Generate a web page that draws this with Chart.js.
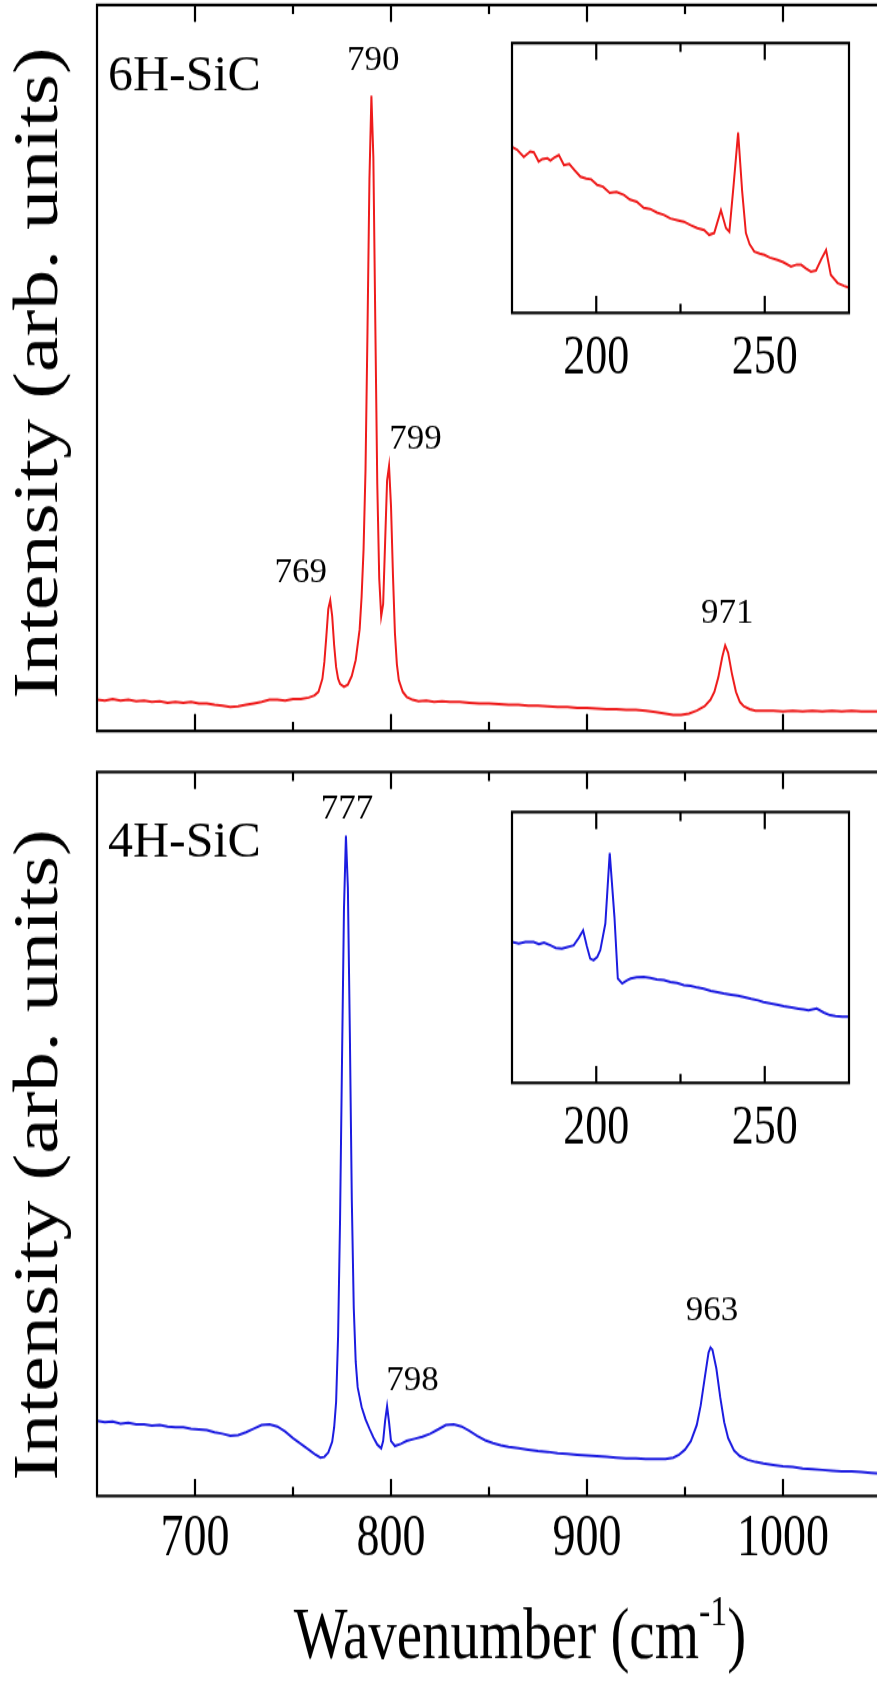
<!DOCTYPE html>
<html>
<head>
<meta charset="utf-8">
<title>Raman spectra 6H-SiC / 4H-SiC</title>
<script src="https://cdn.jsdelivr.net/npm/chart.js@4.4.1/dist/chart.umd.min.js"></script>
<style>
    html, body { margin: 0; padding: 0; background: #fff; overflow: hidden; }
    #page { position: relative; width: 877px; height: 1686px; overflow: hidden; background: #fff; }
    canvas { position: absolute; }
</style>
</head>
<body>
<div id="page">
    <canvas id="top-main"></canvas>
    <canvas id="bottom-main"></canvas>
    <canvas id="top-inset"></canvas>
    <canvas id="bottom-inset"></canvas>
</div>
<script>
// ---- data (intensity in arbitrary units, 0-100 of the panel) ----
const wn6H = [650, 654, 658, 662, 666, 670, 674, 678, 682, 686, 690, 694, 698, 702, 706, 710, 714, 718, 722, 726,
    730, 734, 738, 742, 746, 750, 754, 758, 761, 763, 765, 766, 767, 768, 769, 770, 771, 772, 773, 774,
    776, 778, 780, 782, 784, 785, 786, 787, 788, 789, 790, 791, 792, 793, 794, 795, 796, 797, 798, 799,
    800, 801, 802, 803, 804, 806, 808, 811, 814, 818, 822, 826, 830, 835, 840, 845, 850, 855, 860, 865,
    870, 875, 880, 885, 890, 895, 900, 905, 910, 915, 920, 925, 930, 935, 940, 944, 948, 952, 956, 960,
    963, 965, 967, 969, 970.5, 972, 974, 976, 978, 980, 983, 986, 990, 995, 1000, 1005, 1010, 1015, 1020, 1025,
    1030, 1035, 1040, 1045, 1050];
const int6H = [4.3, 4.2, 4.4, 4.2, 4.3, 4.1, 4.2, 4.0, 4.1, 3.9, 4.0, 3.9, 4.0, 3.8, 3.8, 3.6, 3.5, 3.3, 3.4, 3.6,
    3.8, 4.0, 4.3, 4.3, 4.2, 4.4, 4.4, 4.6, 4.9, 5.4, 7.2, 9.5, 13.0, 16.8, 18.0, 15.8, 11.8, 8.8, 7.2, 6.5,
    6.1, 6.4, 7.6, 9.8, 14.0, 18.5, 25.0, 36.0, 55.0, 76.0, 87.5, 79.0, 56.0, 34.0, 21.0, 15.8, 17.5, 26.0, 34.5, 36.5,
    31.0, 21.5, 13.5, 9.2, 7.0, 5.4, 4.7, 4.3, 4.1, 4.2, 4.0, 4.1, 4.0, 4.0, 3.9, 3.8, 3.8, 3.7, 3.6, 3.6,
    3.5, 3.5, 3.4, 3.3, 3.3, 3.2, 3.2, 3.1, 3.0, 3.0, 2.9, 2.9, 2.8, 2.6, 2.4, 2.2, 2.2, 2.4, 2.8, 3.4,
    4.3, 5.4, 7.4, 10.2, 11.8, 10.8, 7.8, 5.4, 4.0, 3.4, 3.0, 2.8, 2.8, 2.8, 2.7, 2.8, 2.7, 2.8, 2.7, 2.8,
    2.7, 2.8, 2.7, 2.7, 2.7];

const wn4H = [650, 654, 658, 662, 666, 670, 674, 678, 682, 686, 690, 694, 698, 702, 706, 710, 714, 718, 722, 726,
    730, 734, 738, 742, 746, 750, 754, 758, 761, 764, 766, 768, 770, 771, 772, 773, 774, 775, 776, 777,
    778, 779, 780, 781, 782, 783, 785, 787, 789, 791, 793, 795, 796, 797, 798, 799, 800, 802, 805, 808,
    812, 816, 820, 824, 828, 832, 836, 840, 844, 848, 852, 856, 860, 865, 870, 875, 880, 885, 890, 895,
    900, 905, 910, 915, 920, 925, 930, 935, 940, 944, 947, 950, 953, 956, 958, 960, 962, 963, 964, 966,
    968, 970, 972, 975, 978, 982, 986, 990, 995, 1000, 1005, 1010, 1015, 1020, 1025, 1030, 1035, 1040, 1045, 1050];
const int4H = [10.4, 10.2, 10.3, 10.0, 10.1, 9.9, 9.9, 9.7, 9.8, 9.6, 9.5, 9.5, 9.3, 9.2, 9.1, 8.8, 8.6, 8.3, 8.4, 8.8,
    9.3, 9.8, 9.9, 9.6, 8.9, 8.0, 7.2, 6.4, 5.8, 5.3, 5.4, 6.0, 7.5, 9.5, 13.0, 22.0, 38.0, 60.0, 81.0, 91.2,
    84.0, 64.0, 41.0, 26.0, 18.5, 15.0, 12.3, 10.6, 9.3, 8.1, 7.1, 6.6, 7.6, 10.4, 12.4, 10.2, 7.6, 6.9, 7.2, 7.6,
    7.9, 8.2, 8.6, 9.2, 9.8, 9.9, 9.6, 9.0, 8.3, 7.7, 7.3, 7.0, 6.8, 6.6, 6.4, 6.2, 6.1, 5.9, 5.8, 5.7,
    5.6, 5.5, 5.4, 5.3, 5.2, 5.2, 5.1, 5.1, 5.1, 5.3, 5.7, 6.4, 7.6, 9.8, 12.5, 16.2, 19.8, 20.5, 20.2, 17.6,
    13.6, 10.2, 8.0, 6.3, 5.5, 5.0, 4.7, 4.5, 4.3, 4.1, 4.0, 3.8, 3.7, 3.6, 3.5, 3.4, 3.4, 3.3, 3.2, 3.1];

// low-wavenumber insets
const insetWn6H = [175, 176.5, 178.5, 180.4, 181.5, 182.9, 184, 185.5, 186.4, 187.5, 188.9, 190.4, 192, 193.5, 195.3,
    197, 198.5, 200.3, 202, 204, 206, 208.2, 210, 212, 214.1, 216, 218, 220.1, 222, 224, 226, 228, 230, 232,
    233.5, 235, 237, 238.5, 239.5, 240.8, 242.1, 243.3, 244.4, 245.5, 246.9, 248.5, 249.9, 251.5, 253.8, 255.5,
    257.8, 259.5, 260.8, 262.2, 263.7, 265.2, 266.8, 268.2, 269.6, 271.6, 273.5, 275];
const insetInt6H = [61.5, 60.5, 57.8, 59.8, 59.5, 56.1, 57.0, 57.3, 56.5, 57.5, 58.5, 54.8, 55.2, 53.0, 50.5,
    49.8, 49.5, 47.4, 46.8, 44.5, 44.8, 43.7, 42.0, 41.2, 38.9, 38.5, 37.2, 36.3, 35.0, 34.4, 33.8, 32.5, 31.4, 30.7,
    28.9, 29.6, 38.1, 31.4, 30.1, 48.0, 66.8, 45.0, 29.6, 25.5, 22.7, 22.0, 21.5, 20.5, 19.6, 18.8,
    17.2, 17.9, 17.8, 16.5, 15.3, 15.7, 20.0, 23.3, 14.1, 11.1, 10.0, 9.3];

const insetWn4H = [175, 177, 179, 181.4, 183, 184.5, 186.4, 188, 189.8, 191.5, 193.3, 194.8, 196.1, 197.2, 198.2,
    199.2, 200.3, 201.2, 202.7, 204, 205.4, 206.4, 207.7, 209, 210.2, 212, 214.1, 216, 218, 220.1, 222, 224,
    226, 228, 230, 231.9, 234, 236, 237.8, 240, 242, 243.7, 246, 248, 249.6, 252, 254, 255.6, 258, 260,
    261.5, 263, 265.4, 267.5, 269.4, 271, 273, 275];
const insetInt4H = [52.0, 51.5, 52.0, 52.0, 51.2, 51.8, 50.8, 49.8, 49.6, 50.2, 50.8, 53.5, 56.3, 50.5, 45.9,
    45.3, 46.5, 49.0, 58.8, 84.9, 61.3, 38.5, 36.7, 37.8, 38.5, 39.0, 39.1, 38.8, 38.2, 37.9, 37.3, 36.9,
    36.1, 35.8, 35.2, 34.8, 34.0, 33.5, 33.0, 32.6, 32.2, 31.7, 31.0, 30.5, 29.9, 29.3, 28.8, 28.3, 27.8, 27.4,
    27.1, 26.8, 27.5, 26.0, 25.0, 24.7, 24.5, 24.4];

const peaks6H = ['769', '790', '799', '971'];
const peaks4H = ['777', '798', '963'];
const mainTicks = [700, 800, 900, 1000];
const insetTicks = [200, 250];

// ---- drawing ----
const S = 1.27; // the original figure is stretched vertically (axis text only)
const FONT = "'Liberation Serif', 'Times New Roman', serif";
const RED = '#ee1c1c';
const BLUE = '#1c1ce0';

function place(id, left, top, width, height) {
    const c = document.getElementById(id);
    c.width = width;
    c.height = Math.round(height / S);
    c.style.left = left + 'px';
    c.style.top = top + 'px';
    c.style.width = width + 'px';
    c.style.height = height + 'px';
    return c;
}

function points(xs, ys) {
    return xs.map((x, i) => ({ x: x, y: ys[i] }));
}

// frame with inward ticks on top and bottom
const frameTicks = {
    id: 'frameTicks',
    afterDraw(chart, args, o) {
        const { ctx, chartArea: a } = chart;
        const x = chart.scales.x;
        ctx.save();
        ctx.strokeStyle = '#000';
        ctx.lineWidth = o.lineWidth;
        ctx.strokeRect(a.left, a.top, a.right - a.left, a.bottom - a.top);
        ctx.beginPath();
        for (let v = Math.ceil(x.min / o.step) * o.step; v <= x.max; v += o.step) {
            if (v <= x.min || v >= x.max) continue;
            const px = x.getPixelForValue(v);
            const len = (v % o.majorEvery === 0 ? o.major : o.minor) / S;
            ctx.moveTo(px, a.top);
            ctx.lineTo(px, a.top + len);
            ctx.moveTo(px, a.bottom);
            ctx.lineTo(px, a.bottom - len);
        }
        ctx.stroke();
        ctx.restore();
    }
};

// peak labels, panel name and axis titles
const texts = {
    id: 'texts',
    afterDraw(chart, args, o) {
        const { ctx } = chart;
        const x = chart.scales.x;
        const y = chart.scales.y;
        ctx.save();
        ctx.fillStyle = '#000';
        ctx.textBaseline = 'middle';
        (o.items || []).forEach(it => {
            // peak labels are not stretched in the original, so undo the page stretch
            ctx.save();
            ctx.translate(x.getPixelForValue(it.x), y.getPixelForValue(it.y));
            ctx.scale(1, 1 / S);
            ctx.font = it.size + 'px ' + FONT;
            ctx.textAlign = it.align || 'center';
            ctx.fillText(it.text, 0, 0);
            ctx.restore();
        });
        if (o.yTitle) {
            ctx.save();
            ctx.translate(o.yTitle.left, y.getPixelForValue(o.yTitle.y));
            ctx.rotate(-Math.PI / 2);
            ctx.font = o.yTitle.size + 'px ' + FONT;
            ctx.textAlign = 'center';
            ctx.fillText(o.yTitle.text, 0, 0);
            ctx.restore();
        }
        if (o.xTitle) {
            const t = o.xTitle;
            ctx.textAlign = 'left';
            ctx.font = t.size + 'px ' + FONT;
            const w1 = ctx.measureText(t.text).width;
            const w3 = ctx.measureText(t.tail).width;
            ctx.font = t.supSize + 'px ' + FONT;
            const w2 = ctx.measureText(t.sup).width;
            let px = t.cx - (w1 + w2 + w3) / 2;
            const py = t.cy;
            ctx.font = t.size + 'px ' + FONT;
            ctx.fillText(t.text, px, py);
            px += w1;
            ctx.font = t.supSize + 'px ' + FONT;
            ctx.fillText(t.sup, px, py - t.size * 0.36);
            px += w2;
            ctx.font = t.size + 'px ' + FONT;
            ctx.fillText(t.tail, px, py);
        }
        ctx.restore();
    }
};

function makeChart(canvas, data, color, cfg) {
    return new Chart(canvas, {
        type: 'line',
        data: {
            datasets: [{
                data: data,
                borderColor: color,
                borderWidth: cfg.lineWidth,
                pointRadius: 0,
                tension: 0,
                fill: false
            }]
        },
        options: {
            responsive: false,
            animation: false,
            devicePixelRatio: 1,
            events: [],
            layout: { padding: cfg.padding },
            scales: {
                x: {
                    type: 'linear',
                    min: cfg.xMin,
                    max: cfg.xMax,
                    display: cfg.showLabels,
                    grid: { display: false, drawTicks: false },
                    border: { display: false },
                    ticks: {
                        stepSize: cfg.step,
                        autoSkip: false,
                        maxRotation: 0,
                        padding: cfg.labelPad,
                        color: '#000',
                        font: { family: FONT, size: cfg.labelSize, lineHeight: 1 },
                        callback: v => cfg.labels.includes(v) ? String(v) : ''
                    },
                    afterFit: s => { s.height = cfg.axisHeight; }
                },
                y: { min: 0, max: 100, display: false }
            },
            plugins: {
                legend: { display: false },
                tooltip: { enabled: false },
                frameTicks: { lineWidth: 2.2, step: cfg.step, majorEvery: cfg.majorEvery, major: cfg.major, minor: cfg.minor },
                texts: cfg.texts
            }
        },
        plugins: [frameTicks, texts]
    });
}

// top panel: 6H-SiC
const cTop = place('top-main', 0, 0, 900, 760);
makeChart(cTop, points(wn6H, int6H), RED, {
    lineWidth: 2, xMin: 650, xMax: 1050, step: 50, majorEvery: 100, major: 17, minor: 9,
    labels: [], showLabels: false, labelPad: 0, labelSize: 46, axisHeight: 0,
    padding: { left: 97, right: 19, top: 5 / S, bottom: 29 / S },
    texts: {
        items: [
            { text: '6H-SiC', x: 655.6, y: 90.1, align: 'left', size: 50 },
            { text: peaks6H[0], x: 754, y: 21.8, size: 35 },
            { text: peaks6H[1], x: 791, y: 92.4, size: 35 },
            { text: peaks6H[2], x: 812.5, y: 40.2, size: 35 },
            { text: peaks6H[3], x: 971.5, y: 16.1, size: 35 }
        ],
        yTitle: { text: 'Intensity (arb. units)', left: 40, y: 49.3, size: 63 }
    }
});

// bottom panel: 4H-SiC
const cBottom = place('bottom-main', 0, 760, 900, 926);
makeChart(cBottom, points(wn4H, int4H), BLUE, {
    lineWidth: 2, xMin: 650, xMax: 1050, step: 50, majorEvery: 100, major: 17, minor: 9,
    labels: mainTicks, showLabels: true, labelPad: 12, labelSize: 46, axisHeight: (926 - 736) / S,
    padding: { left: 97, right: 19, top: 12 / S, bottom: 0 },
    texts: {
        items: [
            { text: '4H-SiC', x: 655.6, y: 90.2, align: 'left', size: 50 },
            { text: peaks4H[0], x: 777.5, y: 94.8, size: 35 },
            { text: peaks4H[1], x: 811, y: 15.9, size: 35 },
            { text: peaks4H[2], x: 963.8, y: 25.5, size: 35 }
        ],
        yTitle: { text: 'Intensity (arb. units)', left: 40, y: 47.1, size: 63 },
        xTitle: { text: 'Wavenumber (cm', sup: '-1', tail: ')', cx: 520, cy: (1639 - 760) / S, size: 57, supSize: 34 }
    }
});

// insets (low-wavenumber region)
const cTopInset = place('top-inset', 490, 30, 380, 360);
makeChart(cTopInset, points(insetWn6H, insetInt6H), RED, {
    lineWidth: 2, xMin: 175, xMax: 275, step: 25, majorEvery: 50, major: 17, minor: 9,
    labels: insetTicks, showLabels: true, labelPad: 14, labelSize: 44, axisHeight: (360 - 283) / S,
    padding: { left: 22, right: 21, top: 13 / S, bottom: 0 },
    texts: {}
});

const cBottomInset = place('bottom-inset', 490, 795, 380, 360);
makeChart(cBottomInset, points(insetWn4H, insetInt4H), BLUE, {
    lineWidth: 2, xMin: 175, xMax: 275, step: 25, majorEvery: 50, major: 17, minor: 9,
    labels: insetTicks, showLabels: true, labelPad: 14, labelSize: 44, axisHeight: (360 - 288) / S,
    padding: { left: 22, right: 21, top: 17 / S, bottom: 0 },
    texts: {}
});
</script>
</body>
</html>
